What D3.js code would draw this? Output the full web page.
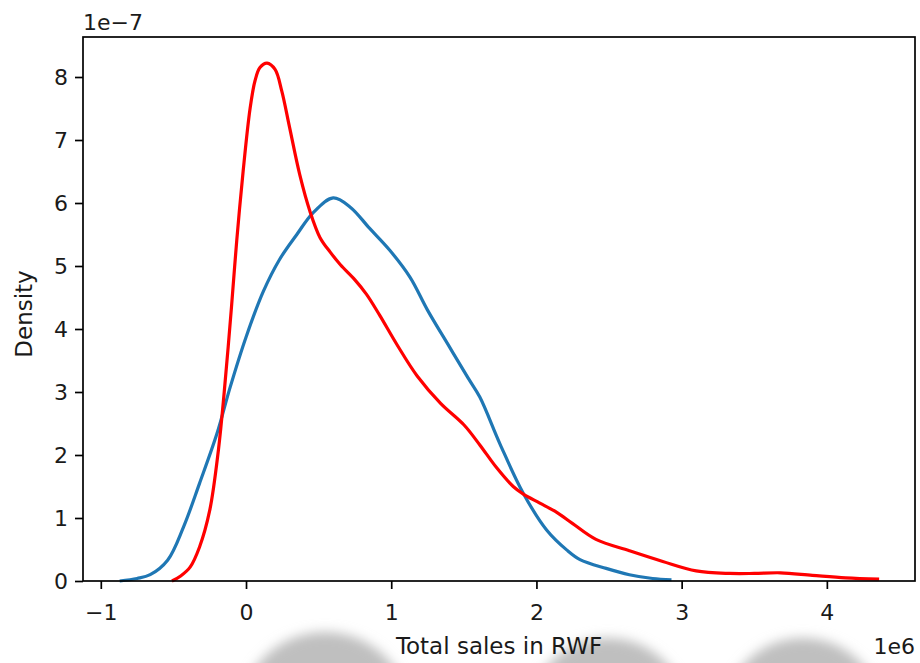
<!DOCTYPE html>
<html>
<head>
<meta charset="utf-8">
<script src="https://cdn.jsdelivr.net/npm/d3@7"></script>
<style>
  html, body { margin: 0; padding: 0; background: #fff; }
  svg { display: block; }
  text { font-family: "DejaVu Sans", sans-serif; fill: #1a1a1a; }
</style>
</head>
<body>
<svg id="chart" width="920" height="663"></svg>
<script>
// ---- data (x in units of 1e6 RWF, density in units of 1e-7) ----
const blueX = [-0.87,-0.75,-0.66,-0.54,-0.43,-0.32,-0.2,-0.11,0.0,0.12,0.23,0.35,0.46,0.6,0.72,0.85,0.99,1.13,1.25,1.4,1.53,1.61,1.75,1.91,2.07,2.21,2.3,2.48,2.64,2.8,2.93];
const blueY = [0.0,0.04,0.1,0.33,0.86,1.55,2.34,3.07,3.87,4.6,5.1,5.5,5.84,6.08,5.93,5.6,5.25,4.82,4.3,3.72,3.22,2.92,2.17,1.39,0.81,0.49,0.34,0.2,0.1,0.04,0.02];

const redX = [-0.51,-0.45,-0.385,-0.32,-0.25,-0.19,-0.15,-0.1,-0.064,-0.02,0.028,0.062,0.096,0.145,0.2,0.246,0.3,0.37,0.44,0.51,0.58,0.65,0.75,0.83,0.92,1.04,1.18,1.34,1.5,1.61,1.725,1.84,1.91,2.02,2.14,2.25,2.41,2.64,2.87,3.1,3.33,3.5,3.68,3.9,4.13,4.36];
const redY = [0.0,0.08,0.22,0.54,1.12,2.08,3.0,4.35,5.4,6.5,7.5,7.94,8.15,8.22,8.12,7.78,7.2,6.45,5.87,5.45,5.22,5.02,4.78,4.55,4.22,3.75,3.25,2.82,2.48,2.16,1.8,1.5,1.38,1.24,1.09,0.91,0.66,0.48,0.31,0.16,0.12,0.12,0.13,0.09,0.05,0.03];

const xTicks = [-1, 0, 1, 2, 3, 4];
const yTicks = [0, 1, 2, 3, 4, 5, 6, 7, 8];
const xLabel = "Total sales in RWF";
const yLabel = "Density";
const xOffsetText = "1e6";
const yOffsetText = "1e\u22127";
const seriesColors = ["#1f77b4", "#ff0000"];

// ---- layout ----
const svg = d3.select("#chart");
const L = 83, R = 915, T = 37, B = 581;

const x = d3.scaleLinear().domain([-1.1226, 4.607]).range([L, R]);
const y = d3.scaleLinear().domain([0, 8.635]).range([B, T]);

// faint watermark blobs at the bottom of the reference
const defs = svg.append("defs");
defs.append("filter").attr("id", "blur").attr("x", "-50%").attr("y", "-50%").attr("width", "200%").attr("height", "200%")
  .append("feGaussianBlur").attr("stdDeviation", 6);
const blobs = [{cx: 325, r: 86}, {cx: 608, r: 80}, {cx: 803, r: 80}];
svg.append("g").selectAll("circle").data(blobs).join("circle")
  .attr("cx", d => d.cx).attr("cy", 718).attr("r", d => d.r)
  .attr("fill", "#bfbfbf").attr("filter", "url(#blur)");

// lines
const line = d3.line().x(d => x(d[0])).y(d => y(d[1])).curve(d3.curveCatmullRom.alpha(0.5));
const series = [d3.zip(blueX, blueY), d3.zip(redX, redY)];
svg.append("g").selectAll("path").data(series).join("path")
  .attr("d", line)
  .attr("fill", "none")
  .attr("stroke", (d, i) => seriesColors[i])
  .attr("stroke-width", 3.2)
  .attr("stroke-linejoin", "round")
  .attr("stroke-linecap", "butt");

// axes
const xAxis = d3.axisBottom(x).tickValues(xTicks).tickSize(8).tickPadding(8)
  .tickFormat(d => d < 0 ? "\u2212" + Math.abs(d) : String(d));
const gx = svg.append("g").attr("transform", `translate(0,${B})`).call(xAxis);
gx.select(".domain").remove();
gx.selectAll(".tick line").attr("stroke", "#000").attr("stroke-width", 1.7);
gx.selectAll(".tick text").attr("font-size", 22).attr("fill", "#1a1a1a")
  .attr("font-family", "DejaVu Sans").attr("dy", null).attr("y", 39);

const yAxis = d3.axisLeft(y).tickValues(yTicks).tickSize(8).tickPadding(8).tickFormat(d3.format("d"));
const gy = svg.append("g").attr("transform", `translate(${L},0)`).call(yAxis);
gy.select(".domain").remove();
gy.selectAll(".tick line").attr("stroke", "#000").attr("stroke-width", 1.7);
gy.selectAll(".tick text").attr("font-size", 22).attr("fill", "#1a1a1a")
  .attr("font-family", "DejaVu Sans").attr("x", -15).attr("dy", "0.35em");

// frame
svg.append("rect").attr("x", L).attr("y", T).attr("width", R - L).attr("height", B - T)
  .attr("fill", "none").attr("stroke", "#000").attr("stroke-width", 1.7);

// labels
svg.append("text").attr("x", (L + R) / 2).attr("y", 654).attr("text-anchor", "middle")
  .attr("font-size", 23).text(xLabel);
svg.append("text").attr("transform", `translate(32,${(T + B) / 2 + 5}) rotate(-90)`)
  .attr("text-anchor", "middle").attr("font-size", 23).text(yLabel);
svg.append("text").attr("x", R).attr("y", 654).attr("text-anchor", "end")
  .attr("font-size", 22).text(xOffsetText);
svg.append("text").attr("x", L).attr("y", 30).attr("text-anchor", "start")
  .attr("font-size", 22).text(yOffsetText);
</script>
</body>
</html>
